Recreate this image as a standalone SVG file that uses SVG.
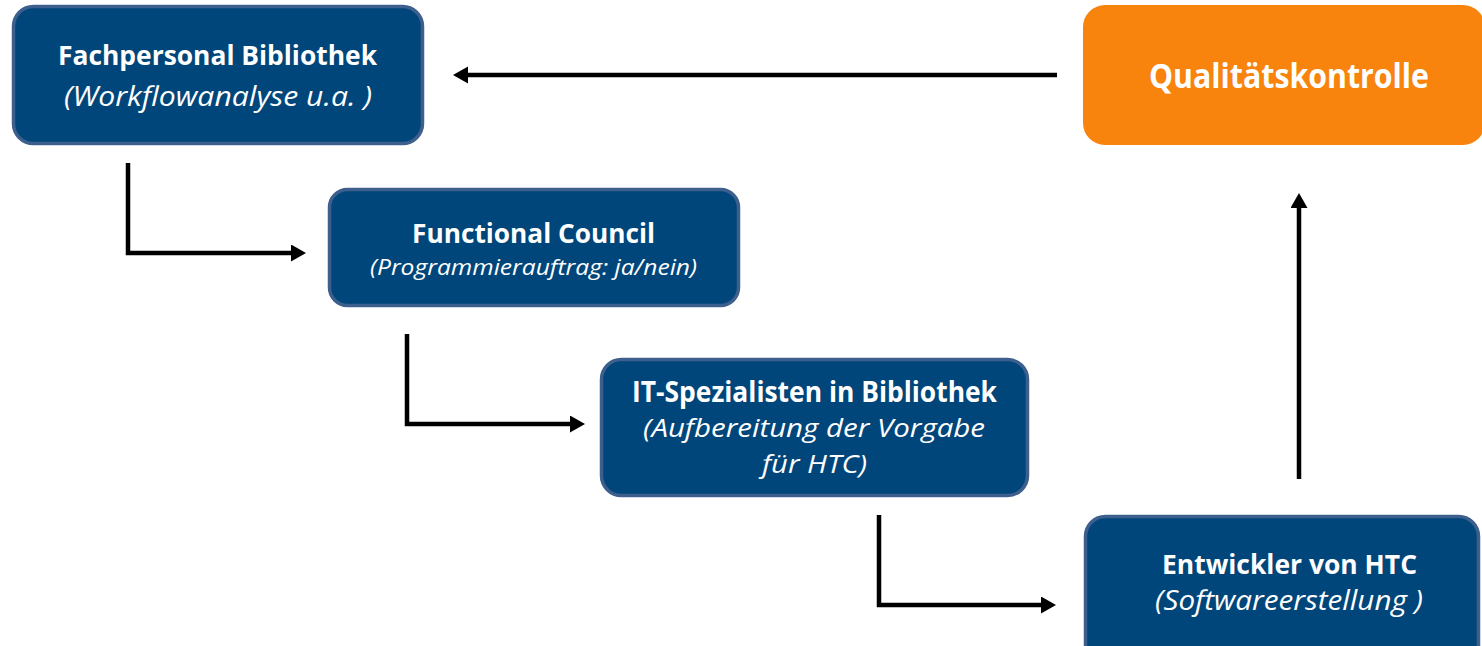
<svg xmlns="http://www.w3.org/2000/svg" width="1482" height="646" viewBox="0 0 1482 646">
<style>
.box{fill:#01467a;stroke:#3c5f8d;stroke-width:3.5}
.qbox{fill:#f8830d}
.t{font-family:"Open Sans","Noto Sans",sans-serif;fill:#ffffff;text-anchor:middle}
.b{font-weight:bold}
.i{font-style:italic}
.conn{fill:none;stroke:#000;stroke-width:4.5;stroke-linejoin:miter}
</style>
<defs>
<marker id="ah" markerUnits="userSpaceOnUse" markerWidth="16" markerHeight="18" refX="1" refY="8.5" orient="auto">
<path d="M0,0 L15,8.5 L0,17 z" fill="#000"/>
</marker>
</defs>
<rect width="1482" height="646" fill="#ffffff"/>
<g id="connectors">
<path class="conn" d="M1057,75 H467" marker-end="url(#ah)"/>
<path class="conn" d="M128,163 V253 H292" marker-end="url(#ah)"/>
<path class="conn" d="M407,334 V424 H571" marker-end="url(#ah)"/>
<path class="conn" d="M879,515 V605 H1042" marker-end="url(#ah)"/>
<path class="conn" d="M1299,479 V207" marker-end="url(#ah)"/>
</g>
<g id="fachpersonal">
<rect class="box" x="13.5" y="6.5" width="409" height="137" rx="20"/>
<text class="t b" x="217.5" y="65" font-size="26.5" textLength="319" lengthAdjust="spacingAndGlyphs">Fachpersonal Bibliothek</text>
<text class="t i" x="218" y="106" font-size="27" textLength="308" lengthAdjust="spacingAndGlyphs">(Workflowanalyse u.a. )</text>
</g>
<g id="qualitaetskontrolle">
<rect class="qbox" x="1083" y="5" width="402" height="140" rx="22"/>
<text class="t b" x="1289" y="88" font-size="34" textLength="280" lengthAdjust="spacingAndGlyphs">Qualitätskontrolle</text>
</g>
<g id="functional-council">
<rect class="box" x="329.5" y="189.5" width="409" height="116" rx="18"/>
<text class="t b" x="533.5" y="243" font-size="26.5" textLength="243" lengthAdjust="spacingAndGlyphs">Functional Council</text>
<text class="t i" x="533.5" y="275" font-size="21" textLength="327" lengthAdjust="spacingAndGlyphs">(Programmierauftrag: ja/nein)</text>
</g>
<g id="it-spezialisten">
<rect class="box" x="601.5" y="359.5" width="426" height="136" rx="20"/>
<text class="t b" x="814.5" y="402" font-size="28" textLength="365" lengthAdjust="spacingAndGlyphs">IT-Spezialisten in Bibliothek</text>
<text class="t i" x="814" y="437" font-size="26" textLength="342" lengthAdjust="spacingAndGlyphs">(Aufbereitung der Vorgabe</text>
<text class="t i" x="814.5" y="473" font-size="26" textLength="105" lengthAdjust="spacingAndGlyphs">für HTC)</text>
</g>
<g id="entwickler">
<rect class="box" x="1085.5" y="516.5" width="393" height="150" rx="20"/>
<text class="t b" x="1289.5" y="574" font-size="26.5" textLength="255" lengthAdjust="spacingAndGlyphs">Entwickler von HTC</text>
<text class="t i" x="1289" y="610" font-size="27" textLength="268" lengthAdjust="spacingAndGlyphs">(Softwareerstellung )</text>
</g>
</svg>
